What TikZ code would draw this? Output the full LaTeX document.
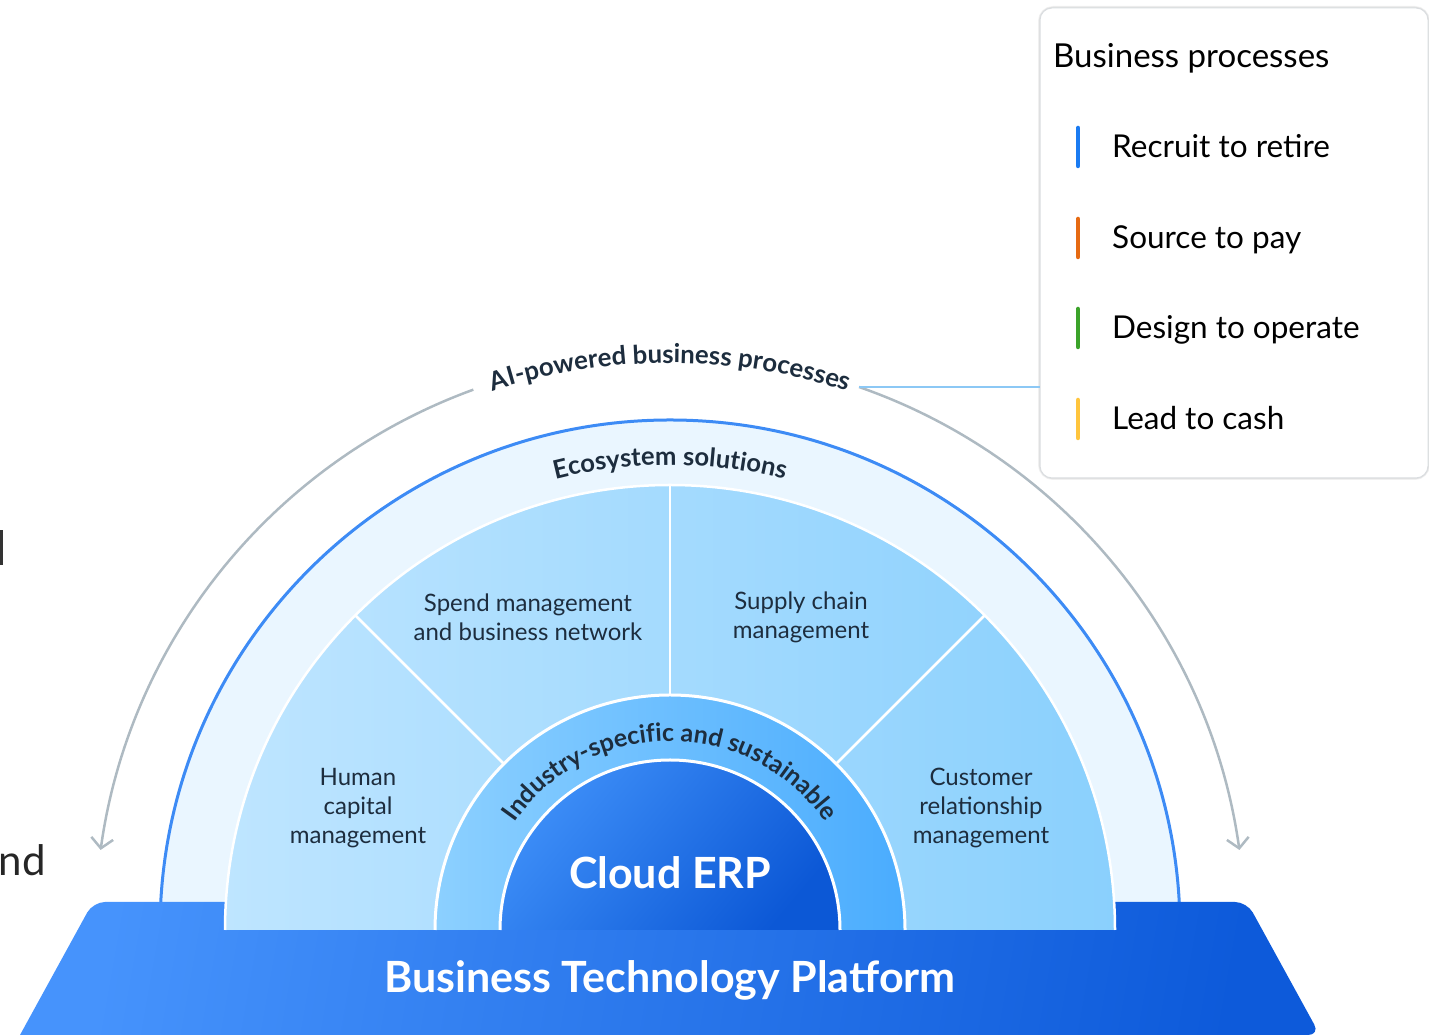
\documentclass[tikz,border=0pt]{standalone}
\usepackage{fontspec}
\setmainfont{Lato}
\usetikzlibrary{decorations.text,arrows.meta}
\definecolor{txt}{HTML}{1D2D3E}
\definecolor{ecofill}{HTML}{EAF6FF}
\definecolor{ecoline}{HTML}{3D8BF5}
\definecolor{midA}{HTML}{BEE5FF}
\definecolor{midB}{HTML}{8AD0FD}
\definecolor{indA}{HTML}{8CD0FF}
\definecolor{indB}{HTML}{4AACFE}
\definecolor{erpA}{HTML}{3E8FF8}
\definecolor{erpB}{HTML}{0C58D6}
\definecolor{platA}{HTML}{4693FC}
\definecolor{platB}{HTML}{0D5ADA}
\definecolor{arcgray}{HTML}{AEBAC2}
\definecolor{connblue}{HTML}{8CC8F5}
\definecolor{legline}{HTML}{DADDE0}
\definecolor{procblue}{HTML}{1A7BF2}
\definecolor{procorange}{HTML}{E66A12}
\definecolor{procgreen}{HTML}{3BA32A}
\definecolor{procyellow}{HTML}{FFC53D}
\tikzset{
  grayarc/.style={draw=arcgray, line width=2.5, -{Straight Barb[length=10, width=22, line width=2.5]}},
  whiteline/.style={draw=white, line width=2.5},
  seglabel/.style={align=center, text=txt, font=\fontsize{24}{29}\selectfont},
  legendbox/.style={draw=legline, line width=1, fill=white, rounded corners=12, minimum width=388, minimum height=470, inner sep=0},
  procbar/.style={line width=4.5, line cap=round},
  procitem/.style={anchor=base west, text=black, font=\fontsize{31.5}{31.5}\selectfont, inner sep=0},
  arctext/.style 2 args={decorate, decoration={text along path, text align=center, text color=txt, text={|\bfseries\fontsize{#1}{#1}\selectfont|#2}}},
  conn/.style={draw=connblue, line width=2}
}
\begin{document}
\begin{tikzpicture}[x=1pt,y=1pt]
\useasboundingbox (0,0) rectangle (1429,1035);
\coordinate (C) at (670,105);

% outer gray arcs with arrows
\path (C) ++(110:575) coordinate (arcL);
\path (C) ++(70.8:575) coordinate (arcR);
\draw[grayarc] (arcL) arc[start angle=110, end angle=172, radius=575];
\draw[grayarc] (arcR) arc[start angle=70.8, end angle=8, radius=575];
\path[arctext={25.8}{AI-powered business processes}] (C) ++(180:567) arc[start angle=180, end angle=0, radius=567];

% ecosystem ring
\fill[ecofill] (C) ++(180:510) arc[start angle=180, end angle=0, radius=510] -- cycle;
\draw[ecoline, line width=3] (C) ++(180:510) arc[start angle=180, end angle=0, radius=510];

% platform
\shade[left color=platA, right color=platB, shading angle=80]
  (20,0) [rounded corners=12] -- (93,133) -- (1247,133) -- (1320,0) [sharp corners] -- cycle;
\node[font=\bfseries\fontsize{43}{43}\selectfont, text=white] (btp) at (670,55) {Business Technology Platform};

% middle ring with four segments
\shade[left color=midA, right color=midB] (C) ++(180:445) arc[start angle=180, end angle=0, radius=445] -- cycle;
\draw[whiteline] (C) ++(180:445) arc[start angle=180, end angle=0, radius=445];
\foreach \a in {45,90,135} \draw[whiteline] (C) ++(\a:235) -- ++(\a:210);
\path[arctext={25.6}{Ecosystem solutions}] (C) ++(180:465) arc[start angle=180, end angle=0, radius=465];

% industry ring
\shade[left color=indA, right color=indB] (C) ++(180:235) arc[start angle=180, end angle=0, radius=235] -- cycle;
\draw[white, line width=3] (C) ++(180:235) arc[start angle=180, end angle=0, radius=235];

% cloud ERP
\shade[left color=erpA, right color=erpB, shading angle=50] (C) ++(180:170) arc[start angle=180, end angle=0, radius=170] -- cycle;
\draw[white, line width=3] (C) ++(180:170) arc[start angle=180, end angle=0, radius=170];
\path[arctext={25}{Industry-specific and sustainable}] (C) ++(180:189) arc[start angle=180, end angle=0, radius=189];
\node[font=\bfseries\fontsize{43}{43}\selectfont, text=white] (erp) at (670,162) {Cloud ERP};

% segment labels
\node[seglabel] (hcm) at (358,227) {Human\\capital\\management};
\node[seglabel] (spend) at (528,417.5) {Spend management\\and business network};
\node[seglabel] (scm) at (801,417.5) {Supply chain\\management};
\node[seglabel] (crm) at (981,227) {Customer\\relationship\\management};

% legend
\foreach \s/\o in {4/0.05, 2.5/0.07}
  \draw[black, opacity=\o, line width=\s, rounded corners=13] (1040,557) rectangle (1428,1027);
\node[legendbox] (legend) at (1234,792) {};
\node[procitem, font=\fontsize{33}{33}\selectfont] (lt) at (1053,967) {Business processes};
\draw[procbar, procblue] (1078,869) -- (1078,907);
\node[procitem] (p1) at (1112,877) {Recruit to retire};
\draw[procbar, procorange] (1078,778) -- (1078,816);
\node[procitem] (p2) at (1112,786) {Source to pay};
\draw[procbar, procgreen] (1078,688) -- (1078,726);
\node[procitem] (p3) at (1112,696) {Design to operate};
\draw[procbar, procyellow] (1078,597) -- (1078,635);
\node[procitem] (p4) at (1112,605) {Lead to cash};

\draw[conn] (arcR) -- (arcR -| legend.west);

% clipped fragments at the left edge
\node[anchor=base east, inner sep=0, text=black!85, font=\fontsize{42}{42}\selectfont] (frag) at (46,159) {nd};
\draw[black!80, line width=3] (1,470) -- (1,505);
\end{tikzpicture}
\end{document}
